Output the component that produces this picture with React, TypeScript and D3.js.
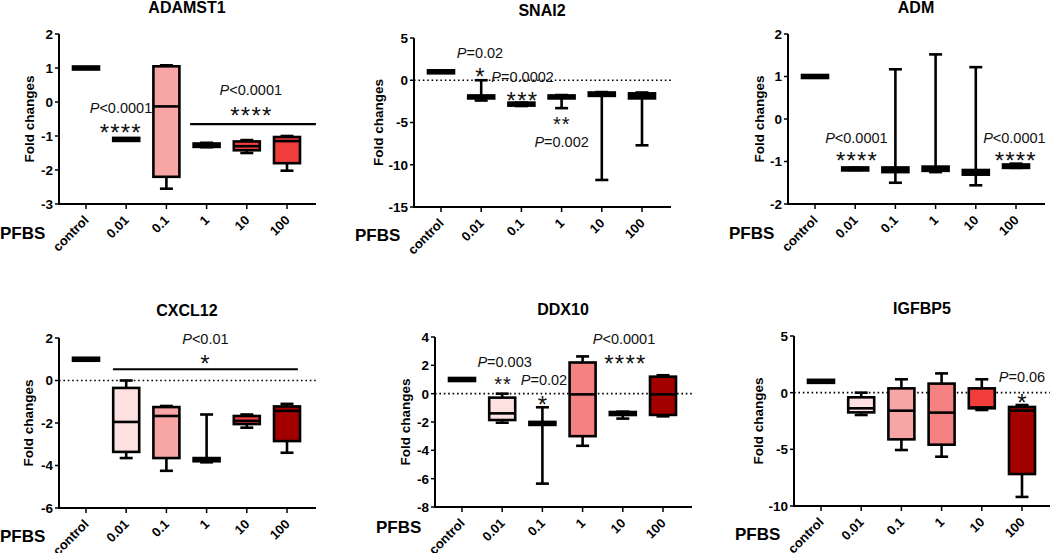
import React from "react";
import * as d3 from "d3";

// ---------- data ----------
const categories = ["control", "0.01", "0.1", "1", "10", "100"];

// box stats per category: [min, q1, median, q3, max]
const adamst1Stats = [
  [1, 1, 1, 1, 1],
  [-1.1, -1.1, -1.1, -1.1, -1.1],
  [-2.55, -2.2, -0.13, 1.05, 1.08],
  [-1.33, -1.32, -1.27, -1.22, -1.2],
  [-1.5, -1.42, -1.3, -1.16, -1.12],
  [-2.02, -1.8, -1.15, -1.03, -1.0],
];
const snai2Stats = [
  [1, 1, 1, 1, 1],
  [-2.4, -2.15, -2.0, -1.8, 0],
  [-3.05, -2.95, -2.85, -2.7, -2.65],
  [-3.3, -2.15, -2.0, -1.8, -1.75],
  [-11.8, -1.85, -1.6, -1.45, -1.4],
  [-7.7, -2.15, -1.9, -1.55, -1.45],
];
const admStats = [
  [1, 1, 1, 1, 1],
  [-1.2, -1.2, -1.18, -1.15, -1.15],
  [-1.5, -1.25, -1.2, -1.14, 1.17],
  [-1.25, -1.22, -1.17, -1.12, 1.52],
  [-1.56, -1.31, -1.26, -1.2, 1.22],
  [-1.15, -1.15, -1.11, -1.07, -1.05],
];
const cxcl12Stats = [
  [1, 1, 1, 1, 1],
  [-3.65, -3.36, -1.95, -0.35, 0],
  [-4.25, -3.65, -1.67, -1.25, -1.2],
  [-3.85, -3.8, -3.75, -3.65, -1.6],
  [-2.22, -2.05, -1.9, -1.67, -1.6],
  [-3.4, -2.85, -1.43, -1.22, -1.1],
];
const ddx10Stats = [
  [1, 1, 1, 1, 1],
  [-2.05, -1.86, -1.39, -0.28, 0],
  [-6.35, -2.2, -2.1, -2.0, -0.96],
  [-3.68, -3.0, -0.05, 2.2, 2.63],
  [-1.76, -1.5, -1.4, -1.3, -1.27],
  [-1.6, -1.5, -0.05, 1.2, 1.3],
];
const igfbp5Stats = [
  [1, 1, 1, 1, 1],
  [-1.97, -1.74, -1.38, -0.41, 0],
  [-5.06, -4.12, -1.59, 0.38, 1.18],
  [-5.65, -4.59, -1.76, 0.8, 1.7],
  [-1.53, -1.38, -1.3, 0.38, 1.18],
  [-9.2, -7.18, -1.59, -1.26, -1.09],
];

const adamst1Ticks = [2, 1, 0, -1, -2, -3];
const snai2Ticks = [5, 0, -5, -10, -15];
const admTicks = [2, 1, 0, -1, -2];
const cxcl12Ticks = [2, 0, -2, -4, -6];
const ddx10Ticks = [4, 2, 0, -2, -4, -6, -8];
const igfbp5Ticks = [5, 0, -5, -10];

// annotations: [label, category index (fractional), value, kind]
const adamst1Notes = [
  ["P<0.0001", 0.87, -0.32, "p"],
  ["****", 0.85, -0.75, "s"],
  ["P<0.0001", 4.1, 0.21, "p"],
  ["****", 4.1, -0.24, "s"],
];
const adamst1Bars = [[2.59, 5.72, -0.65]];
const snai2Notes = [
  ["P=0.02", 0.97, 2.63, "p"],
  ["*", 0.97, 1.04, "s"],
  ["P=0.0002", 2.03, -0.21, "p"],
  ["***", 2.01, -1.8, "s"],
  ["**", 2.99, -4.7, "s2"],
  ["P=0.002", 3.0, -7.9, "p"],
];
const admNotes = [
  ["P<0.0001", 1.03, -0.56, "p"],
  ["****", 1.03, -0.86, "s"],
  ["P<0.0001", 4.96, -0.56, "p"],
  ["****", 4.98, -0.86, "s"],
];
const cxcl12Notes = [
  ["P<0.01", 2.97, 1.72, "p"],
  ["*", 2.96, 1.06, "s"],
];
const cxcl12Bars = [[0.67, 5.27, 0.53]];
const ddx10Notes = [
  ["P=0.003", 1.06, 1.9, "p"],
  ["**", 1.01, 0.97, "s2"],
  ["P=0.02", 2.04, 0.61, "p"],
  ["*", 2.0, -0.38, "s"],
  ["P<0.0001", 4.03, 3.5, "p"],
  ["****", 4.05, 2.48, "s"],
];
const igfbp5Notes = [
  ["P=0.06", 5.0, 0.97, "p"],
  ["*", 5.0, -0.38, "s"],
];

// ---------- styles / layout ----------
const PINK0 = "#fde0e0";
const PINK1 = "#f8a5a5";
const SALMON = "#f58282";
const RED = "#f23d3d";
const DARK = "#a30000";
const BLACK = "#000";

const panels = [
  { title: "ADAMST1", stats: adamst1Stats, ticks: adamst1Ticks, notes: adamst1Notes, bars: adamst1Bars,
    fills: [BLACK, BLACK, PINK1, BLACK, RED, RED], zero: false,
    ax: 59, yTop: 34, yBot: 204, titleY: 13, labelOff: 30, pfbsY: 239 },
  { title: "SNAI2", stats: snai2Stats, ticks: snai2Ticks, notes: snai2Notes, bars: [],
    fills: [BLACK, BLACK, BLACK, BLACK, BLACK, BLACK], zero: true,
    ax: 414, yTop: 38, yBot: 207, titleY: 16, labelOff: 36, pfbsY: 241 },
  { title: "ADM", stats: admStats, ticks: admTicks, notes: admNotes, bars: [],
    fills: [BLACK, BLACK, BLACK, BLACK, BLACK, BLACK], zero: false,
    ax: 788, yTop: 34, yBot: 204, titleY: 13, labelOff: 29, pfbsY: 239 },
  { title: "CXCL12", stats: cxcl12Stats, ticks: cxcl12Ticks, notes: cxcl12Notes, bars: cxcl12Bars,
    fills: [BLACK, PINK0, PINK1, BLACK, RED, DARK], zero: true,
    ax: 59, yTop: 338, yBot: 508, titleY: 316, labelOff: 31, pfbsY: 542 },
  { title: "DDX10", stats: ddx10Stats, ticks: ddx10Ticks, notes: ddx10Notes, bars: [],
    fills: [BLACK, PINK0, BLACK, SALMON, BLACK, DARK], zero: true,
    ax: 435, yTop: 337, yBot: 507, titleY: 315, labelOff: 30, pfbsY: 533 },
  { title: "IGFBP5", stats: igfbp5Stats, ticks: igfbp5Ticks, notes: igfbp5Notes, bars: [],
    fills: [BLACK, PINK0, PINK1, SALMON, RED, DARK], zero: true,
    ax: 794, yTop: 336, yBot: 506, titleY: 314, labelOff: 36, pfbsY: 540 },
];

const FONT = "'Liberation Sans', Arial, Helvetica, sans-serif";
const BOX_W = 26;
const CAP_W = 13;
const SW = 2.6;

function PText({ label, x, y }) {
  const body = label.startsWith("P") ? label.slice(1) : label;
  return (
    <text x={x} y={y} textAnchor="middle" fontSize={14.5} fontFamily={FONT} fill="#111">
      <tspan fontStyle="italic">P</tspan>
      <tspan>{body}</tspan>
    </text>
  );
}

function Stars({ n, cx, cy, size }) {
  const spacing = size * 0.44;
  const items = [];
  for (let i = 0; i < n; i++) {
    const x = cx + (i - (n - 1) / 2) * spacing;
    items.push(
      <text key={i} x={x} y={cy + size * 0.57} textAnchor="middle" fontSize={size}
        fontFamily={FONT} fill="#111">*</text>
    );
  }
  return <g>{items}</g>;
}

function Panel({ p }) {
  const ticks = p.ticks;
  const y = d3.scaleLinear()
    .domain([d3.min(ticks), d3.max(ticks)])
    .range([p.yBot, p.yTop]);
  const x = d3.scalePoint().domain(categories).range([p.ax + 27, p.ax + 228]);
  const xi = d3.scaleLinear().domain([0, categories.length - 1]).range([p.ax + 27, p.ax + 228]);
  const xEnd = p.ax + 257;
  const midY = (p.yTop + p.yBot) / 2;

  return (
    <g>
      <text x={p.ax + 128} y={p.titleY} textAnchor="middle" fontSize={16} fontWeight="bold"
        fontFamily={FONT}>{p.title}</text>
      {/* y label */}
      <text transform={`translate(${p.ax - p.labelOff + 5},${midY}) rotate(-90)`} textAnchor="middle"
        fontSize={13.5} fontWeight="bold" fontFamily={FONT}>Fold changes</text>
      {/* PFBS */}
      <text x={p.ax - 59} y={p.pfbsY} fontSize={17} fontWeight="bold" fontFamily={FONT}>PFBS</text>
      {/* zero dotted line */}
      {p.zero && (
        <line x1={p.ax} x2={xEnd} y1={y(0)} y2={y(0)} stroke="#000" strokeWidth={1.6}
          strokeDasharray="1.6,2.8" />
      )}
      {/* boxes */}
      {p.stats.map((s, i) => {
        const cx = x(categories[i]);
        const [mn, q1, md, q3, mx] = s;
        let top = y(q3);
        let bot = y(q1);
        if (bot - top < 3) {
          const c = (top + bot) / 2;
          top = c - 1.5;
          bot = c + 1.5;
        }
        return (
          <g key={i}>
            <line x1={cx} x2={cx} y1={y(mx)} y2={y(mn)} stroke="#000" strokeWidth={SW} />
            <line x1={cx - CAP_W / 2} x2={cx + CAP_W / 2} y1={y(mx)} y2={y(mx)} stroke="#000" strokeWidth={SW} />
            <line x1={cx - CAP_W / 2} x2={cx + CAP_W / 2} y1={y(mn)} y2={y(mn)} stroke="#000" strokeWidth={SW} />
            <rect x={cx - BOX_W / 2} y={top} width={BOX_W} height={bot - top} fill={p.fills[i]}
              stroke="#000" strokeWidth={SW} />
            <line x1={cx - BOX_W / 2} x2={cx + BOX_W / 2} y1={y(md)} y2={y(md)} stroke="#000" strokeWidth={SW} />
          </g>
        );
      })}
      {/* axes */}
      <line x1={p.ax} x2={p.ax} y1={p.yTop} y2={p.yBot + 1} stroke="#000" strokeWidth={2} />
      <line x1={p.ax - 1} x2={xEnd} y1={p.yBot} y2={p.yBot} stroke="#000" strokeWidth={2} />
      {ticks.map((t) => (
        <g key={t}>
          <line x1={p.ax - 4} x2={p.ax} y1={y(t)} y2={y(t)} stroke="#000" strokeWidth={1.5} />
          <text x={p.ax - 6} y={y(t)} dy="0.36em" textAnchor="end" fontSize={13.5} fontWeight="bold"
            fontFamily={FONT}>{t}</text>
        </g>
      ))}
      {categories.map((c) => (
        <g key={c}>
          <line x1={x(c)} x2={x(c)} y1={p.yBot} y2={p.yBot + 5} stroke="#000" strokeWidth={1.5} />
          <text transform={`translate(${x(c) + 3.5},${p.yBot + 17}) rotate(-45)`} textAnchor="end"
            fontSize={13} fontWeight="bold" fontFamily={FONT}>{c}</text>
        </g>
      ))}
      {/* significance bars */}
      {p.bars.map((b, i) => (
        <line key={i} x1={xi(b[0])} x2={xi(b[1])} y1={y(b[2])} y2={y(b[2])} stroke="#000" strokeWidth={2.2} />
      ))}
      {/* annotations */}
      {p.notes.map((n, i) => {
        const [label, ci, v, kind] = n;
        if (kind === "p") return <PText key={i} label={label} x={xi(ci)} y={y(v)} />;
        return <Stars key={i} n={label.length} cx={xi(ci)} cy={y(v)} size={kind === "s2" ? 20 : 24} />;
      })}
    </g>
  );
}

export default function App() {
  return (
    <svg width={1050} height={553} style={{ position: "absolute", left: 0, top: 0, background: "#fff" }}>
      <rect x={0} y={0} width={1050} height={553} fill="#fff" />
      {panels.map((p) => (
        <Panel key={p.title} p={p} />
      ))}
    </svg>
  );
}
